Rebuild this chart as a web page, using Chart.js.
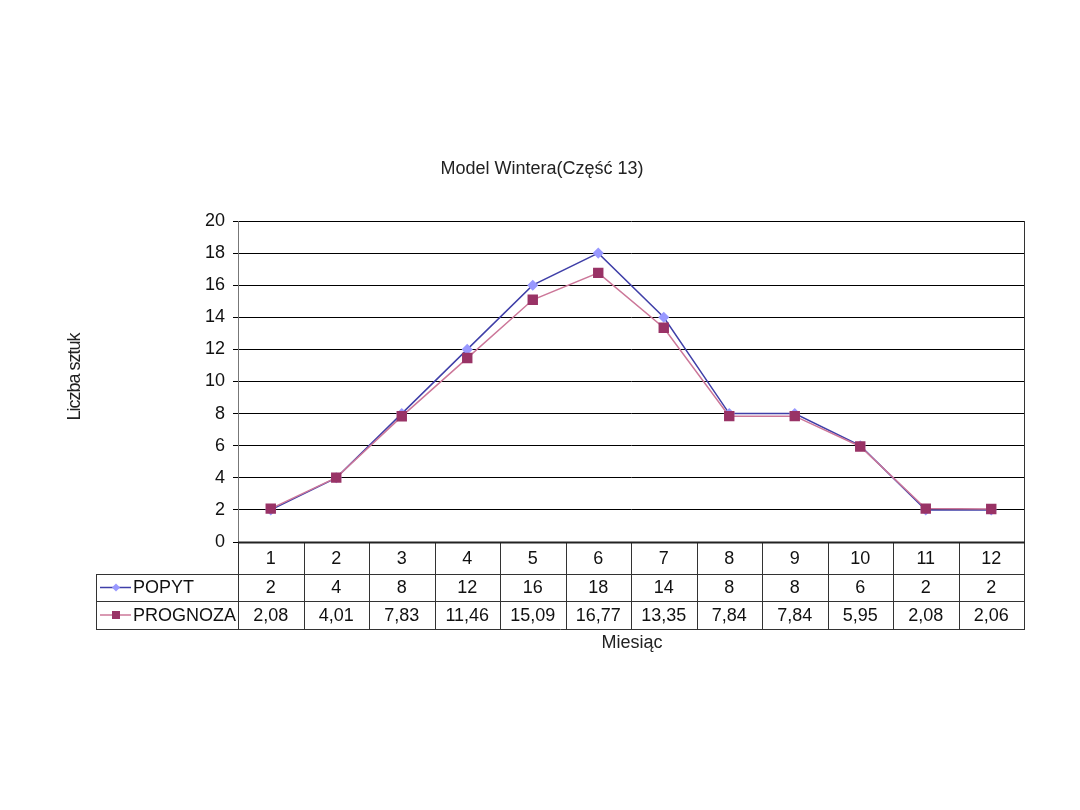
<!DOCTYPE html>
<html>
<head>
<meta charset="utf-8">
<script src="https://cdn.jsdelivr.net/npm/chart.js@4/dist/chart.umd.min.js"></script>
<style>
html,body{margin:0;padding:0;background:#fff;}
#wrap{width:1080px;height:810px;position:relative;}
</style>
</head>
<body>
<div id="wrap"><canvas id="c" width="1080" height="810"></canvas></div>
<script>
const months = ['1','2','3','4','5','6','7','8','9','10','11','12'];
const popyt = [2,4,8,12,16,18,14,8,8,6,2,2];
const prognoza = [2.08,4.01,7.83,11.46,15.09,16.77,13.35,7.84,7.84,5.95,2.08,2.06];
const seriesNames = ['POPYT','PROGNOZA'];
const titleText = 'Model Wintera(Część 13)';
const yTitle = 'Liczba sztuk';
const xTitle = 'Miesiąc';

const FONT = '"Liberation Sans", Arial, sans-serif';
const C1 = {line:'#3f3fa8', marker:'#9999ff'};
const C2 = {line:'#cc7799', marker:'#993366'};
const fmt = v => String(v).replace('.', ',');

const tablePlugin = {
  id:'tablePlugin',
  afterDraw(chart){
    const ctx = chart.ctx, ca = chart.chartArea;
    const n = months.length;
    const colW = (ca.right - ca.left)/n;
    const r0 = ca.bottom, r1 = 574, r2 = 601, r3 = 629, legL = 96;
    ctx.save();
    ctx.strokeStyle = '#333';
    ctx.lineWidth = 1;
    ctx.beginPath();
    ctx.moveTo(ca.right+0.5, ca.top); ctx.lineTo(ca.right+0.5, r3);
    ctx.stroke();
    ctx.beginPath();
    ctx.moveTo(legL, r1+0.5); ctx.lineTo(ca.right, r1+0.5);
    ctx.moveTo(legL, r2+0.5); ctx.lineTo(ca.right, r2+0.5);
    ctx.moveTo(legL, r3+0.5); ctx.lineTo(ca.right+1, r3+0.5);
    ctx.moveTo(legL+0.5, r1); ctx.lineTo(legL+0.5, r3);
    for(let i=0;i<=n;i++){
      const x = Math.round(ca.left + i*colW)+0.5;
      ctx.moveTo(x, r0); ctx.lineTo(x, r3);
    }
    ctx.stroke();
    ctx.lineWidth = 2;
    ctx.strokeStyle = '#222';
    ctx.beginPath();
    ctx.moveTo(ca.left, r0+0.5); ctx.lineTo(ca.right+1, r0+0.5);
    ctx.stroke();
    ctx.fillStyle = '#111';
    ctx.font = '18px ' + FONT;
    ctx.textAlign = 'center';
    ctx.textBaseline = 'middle';
    for(let i=0;i<n;i++){
      const cx = chart.scales.x.getPixelForValue(i);
      ctx.fillText(months[i], cx, (r0+r1)/2+1);
      ctx.fillText(fmt(popyt[i]), cx, (r1+r2)/2+1);
      ctx.fillText(fmt(prognoza[i]), cx, (r2+r3)/2+1);
    }
    const keys = [[C1,'diamond',(r1+r2)/2],[C2,'square',(r2+r3)/2]];
    keys.forEach((k,j)=>{
      const [col,shape,y] = k;
      ctx.strokeStyle = col.line; ctx.lineWidth = 1.5;
      ctx.beginPath(); ctx.moveTo(100,y); ctx.lineTo(131,y); ctx.stroke();
      ctx.fillStyle = col.marker;
      if(shape==='diamond'){
        ctx.beginPath(); ctx.moveTo(116,y-4); ctx.lineTo(120,y); ctx.lineTo(116,y+4); ctx.lineTo(112,y); ctx.closePath(); ctx.fill();
      } else {
        ctx.fillRect(112,y-4,8,8);
      }
      ctx.fillStyle = '#111';
      ctx.textAlign = 'left';
      ctx.fillText(seriesNames[j], 133, y+1);
    });
    ctx.textAlign = 'center';
    ctx.fillStyle = '#222';
    ctx.font = '18px ' + FONT;
    ctx.fillText(titleText, 542, 169);
    ctx.fillText(xTitle, (ca.left+ca.right)/2+1, 643);
    ctx.translate(75, 377);
    ctx.rotate(-Math.PI/2);
    try { ctx.letterSpacing = '-1px'; } catch(e) {}
    ctx.fillText(yTitle, 0, 0);
    ctx.restore();
  }
};

new Chart(document.getElementById('c'), {
  type:'line',
  data:{
    labels: months,
    datasets:[
      {label:seriesNames[0], data:popyt, borderColor:C1.line, backgroundColor:C1.marker,
       pointBackgroundColor:C1.marker, pointBorderColor:C1.marker, pointStyle:'rectRot',
       pointRadius:4.5, borderWidth:1.5, tension:0, order:2},
      {label:seriesNames[1], data:prognoza, borderColor:C2.line, backgroundColor:C2.marker,
       pointBackgroundColor:C2.marker, pointBorderColor:C2.marker, pointStyle:'rect',
       pointRadius:6.3, borderWidth:1.5, tension:0, order:1}
    ]
  },
  options:{
    responsive:false,
    animation:false,
    devicePixelRatio:1,
    layout:{padding:{left:198, right:56, top:221, bottom:268}},
    plugins:{legend:{display:false}, tooltip:{enabled:false}, title:{display:false}},
    scales:{
      x:{display:false, offset:true},
      y:{
        min:0, max:20,
        afterFit(s){ s.width = 40; },
        ticks:{stepSize:2, color:'#111', font:{family:FONT, size:18}, padding:8},
        grid:{color:'#000', lineWidth:1, tickLength:5},
        border:{color:'#777', width:1}
      }
    }
  },
  plugins:[tablePlugin]
});
</script>
</body>
</html>
